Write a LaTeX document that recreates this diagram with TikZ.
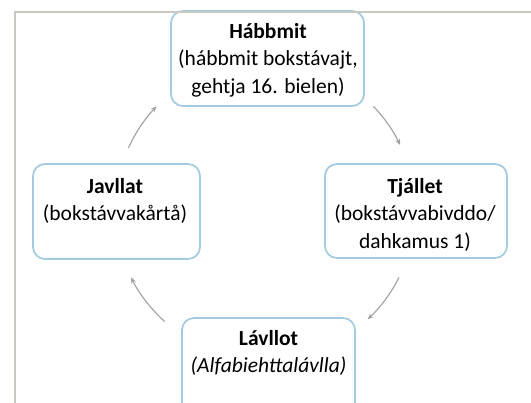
\documentclass[tikz,border=0pt]{standalone}
\usepackage{fontspec}
\setmainfont{Carlito}
\usetikzlibrary{arrows.meta}
\definecolor{boxblue}{RGB}{164,202,224}
\definecolor{framegray}{RGB}{200,202,194}
\definecolor{arrowgray}{RGB}{160,160,160}
\tikzset{
  box/.style={draw=boxblue, line width=1.7pt, rounded corners=12pt, fill=white,
    rectangle, inner sep=0pt},
  boxtext/.style={anchor=north, inner sep=0pt, align=center,
    font=\fontsize{21.5pt}{27.5pt}\selectfont},
  conn/.style={draw=arrowgray, line width=1.1pt,
    -{Stealth[length=6pt,width=5pt]}},
  frameline/.style={draw=framegray, line width=2pt}
}
\newcommand{\firstline}{\rule{0pt}{20pt}}
\begin{document}
\begin{tikzpicture}[x=1pt,y=1pt]
  \useasboundingbox (0,0) rectangle (531,403);
  \clip (0,0) rectangle (531,403);
  \fill[white] (0,0) rectangle (531,403);

  % boxes
  \node[box, minimum width=193pt, minimum height=95pt] (top) at (267.5,344.5) {};
  \node[box, minimum width=167pt, minimum height=95pt] (left) at (116.5,191.5) {};
  \node[box, minimum width=182pt, minimum height=94pt] (right) at (416,192) {};
  \node[box, minimum width=173pt, minimum height=102pt] (bottom) at (268.5,34) {};

  % texts
  \node[boxtext] (toptext) at (268,385) {\firstline\textbf{Hábbmit}\\(hábbmit bokstávajt,\\gehtja 16. bielen)};
  \node[boxtext] (lefttext) at (115,230) {\firstline\textbf{Javllat}\\(bokstávvakårtå)};
  \node[boxtext] (righttext) at (415,230) {\firstline\textbf{Tjállet}\\(bokstávvabivddo/\\dahkamus 1)};
  \node[boxtext] (bottomtext) at (268.5,78) {\firstline\textbf{Lávllot}\\\textit{(Alfabiehttalávlla)}};

  % frame lines
  \draw[frameline] (15,0) -- (15,391) -- (531,391);

  % connectors: arcs of one circle
  \coordinate (O) at (265,193);
  \coordinate (c1) at ([shift={(155.6:150)}]O);
  \coordinate (c2) at ([shift={(43.7:150)}]O);
  \coordinate (c3) at ([shift={(-26.7:150)}]O);
  \coordinate (c4) at ([shift={(228:150)}]O);
  \draw[conn] (c1) arc[start angle=155.6, end angle=136.3, radius=150];
  \draw[conn] (c2) arc[start angle=43.7, end angle=25.7, radius=150];
  \draw[conn] (c3) arc[start angle=-26.7, end angle=-46.8, radius=150];
  \draw[conn] (c4) arc[start angle=228, end angle=206.7, radius=150];
\end{tikzpicture}
\end{document}
